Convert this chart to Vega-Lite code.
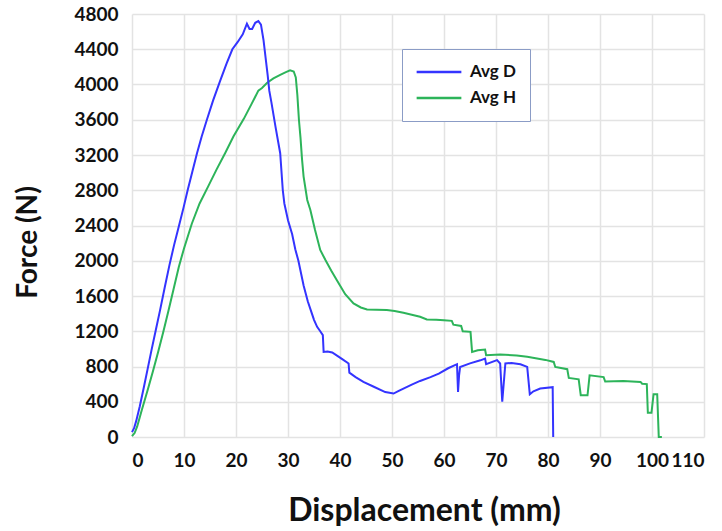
{
  "$schema": "https://vega.github.io/schema/vega-lite/v6.json",
  "width": 572,
  "height": 423,
  "autosize": "none",
  "padding": {"left": 132, "top": 14, "right": 18, "bottom": 94},
  "background": "white",
  "config": {
    "view": {"stroke": null},
    "font": "Lato",
    "axis": {
      "grid": true, "gridColor": "#e3e3e3", "gridWidth": 1.5,
      "domain": false, "ticks": false,
      "labelFont": "Lato", "labelFontWeight": "bold", "labelFontSize": 19, "labelColor": "#111111",
      "titleFont": "Lato", "titleFontWeight": "bold", "titleColor": "#111111"
    }
  },
  "datasets": {
    "curves": [
      {"s":"Avg D","x":0,"y":55},{"s":"Avg D","x":0.4,"y":100},{"s":"Avg D","x":0.8,"y":180},{"s":"Avg D","x":1.5,"y":350},{"s":"Avg D","x":2.3,"y":570},{"s":"Avg D","x":3.0,"y":770},{"s":"Avg D","x":3.8,"y":1000},{"s":"Avg D","x":4.6,"y":1220},{"s":"Avg D","x":5.4,"y":1440},{"s":"Avg D","x":6.3,"y":1700},{"s":"Avg D","x":7.2,"y":1950},{"s":"Avg D","x":8.1,"y":2180},{"s":"Avg D","x":9.0,"y":2390},{"s":"Avg D","x":9.9,"y":2600},{"s":"Avg D","x":10.7,"y":2800},{"s":"Avg D","x":11.6,"y":3010},{"s":"Avg D","x":12.5,"y":3220},{"s":"Avg D","x":13.4,"y":3410},{"s":"Avg D","x":14.4,"y":3600},{"s":"Avg D","x":15.6,"y":3820},{"s":"Avg D","x":17.0,"y":4050},{"s":"Avg D","x":18.2,"y":4240},{"s":"Avg D","x":19.3,"y":4400},{"s":"Avg D","x":20.3,"y":4480},{"s":"Avg D","x":21.3,"y":4570},{"s":"Avg D","x":22.1,"y":4690},{"s":"Avg D","x":22.6,"y":4630},{"s":"Avg D","x":23.1,"y":4630},{"s":"Avg D","x":23.7,"y":4700},{"s":"Avg D","x":24.3,"y":4720},{"s":"Avg D","x":24.8,"y":4680},{"s":"Avg D","x":25.3,"y":4500},{"s":"Avg D","x":25.7,"y":4300},{"s":"Avg D","x":26.1,"y":4100},{"s":"Avg D","x":26.4,"y":3930},{"s":"Avg D","x":26.8,"y":3800},{"s":"Avg D","x":27.6,"y":3520},{"s":"Avg D","x":28.5,"y":3220},{"s":"Avg D","x":29.0,"y":2800},{"s":"Avg D","x":29.3,"y":2650},{"s":"Avg D","x":30.0,"y":2460},{"s":"Avg D","x":30.8,"y":2300},{"s":"Avg D","x":31.4,"y":2130},{"s":"Avg D","x":32.0,"y":2000},{"s":"Avg D","x":33.0,"y":1720},{"s":"Avg D","x":33.8,"y":1540},{"s":"Avg D","x":34.6,"y":1400},{"s":"Avg D","x":35.0,"y":1330},{"s":"Avg D","x":35.6,"y":1250},{"s":"Avg D","x":36.2,"y":1200},{"s":"Avg D","x":36.7,"y":1156},{"s":"Avg D","x":36.85,"y":966},{"s":"Avg D","x":37.6,"y":970},{"s":"Avg D","x":38.5,"y":960},{"s":"Avg D","x":39.5,"y":920},{"s":"Avg D","x":40.5,"y":880},{"s":"Avg D","x":41.65,"y":834},{"s":"Avg D","x":41.8,"y":730},{"s":"Avg D","x":43.0,"y":680},{"s":"Avg D","x":44.5,"y":625},{"s":"Avg D","x":46.5,"y":570},{"s":"Avg D","x":48.7,"y":510},{"s":"Avg D","x":50.3,"y":493},{"s":"Avg D","x":51.2,"y":520},{"s":"Avg D","x":52.2,"y":550},{"s":"Avg D","x":53.8,"y":595},{"s":"Avg D","x":55.4,"y":636},{"s":"Avg D","x":57.4,"y":680},{"s":"Avg D","x":59.0,"y":720},{"s":"Avg D","x":60.8,"y":780},{"s":"Avg D","x":62.5,"y":826},{"s":"Avg D","x":62.7,"y":510},{"s":"Avg D","x":62.9,"y":700},{"s":"Avg D","x":63.1,"y":795},{"s":"Avg D","x":65.0,"y":835},{"s":"Avg D","x":67.0,"y":870},{"s":"Avg D","x":67.9,"y":890},{"s":"Avg D","x":68.1,"y":826},{"s":"Avg D","x":70.2,"y":872},{"s":"Avg D","x":70.8,"y":834},{"s":"Avg D","x":71.2,"y":400},{"s":"Avg D","x":71.8,"y":834},{"s":"Avg D","x":73.0,"y":840},{"s":"Avg D","x":74.7,"y":826},{"s":"Avg D","x":76.0,"y":795},{"s":"Avg D","x":76.5,"y":485},{"s":"Avg D","x":77.2,"y":519},{"s":"Avg D","x":78.5,"y":550},{"s":"Avg D","x":80.9,"y":565},{"s":"Avg D","x":81.0,"y":0},
      {"s":"Avg H","x":0,"y":10},{"s":"Avg H","x":0.5,"y":45},{"s":"Avg H","x":1.0,"y":120},{"s":"Avg H","x":1.9,"y":310},{"s":"Avg H","x":3.0,"y":530},{"s":"Avg H","x":4.0,"y":740},{"s":"Avg H","x":5.0,"y":960},{"s":"Avg H","x":6.0,"y":1190},{"s":"Avg H","x":7.0,"y":1430},{"s":"Avg H","x":8.0,"y":1680},{"s":"Avg H","x":9.0,"y":1930},{"s":"Avg H","x":10.0,"y":2140},{"s":"Avg H","x":11.5,"y":2420},{"s":"Avg H","x":13.0,"y":2650},{"s":"Avg H","x":14.7,"y":2850},{"s":"Avg H","x":16.3,"y":3040},{"s":"Avg H","x":17.9,"y":3220},{"s":"Avg H","x":19.5,"y":3410},{"s":"Avg H","x":21.5,"y":3610},{"s":"Avg H","x":23.0,"y":3780},{"s":"Avg H","x":24.3,"y":3930},{"s":"Avg H","x":25.0,"y":3960},{"s":"Avg H","x":26.0,"y":4020},{"s":"Avg H","x":27.2,"y":4070},{"s":"Avg H","x":28.5,"y":4110},{"s":"Avg H","x":29.6,"y":4140},{"s":"Avg H","x":30.4,"y":4160},{"s":"Avg H","x":31.1,"y":4148},{"s":"Avg H","x":31.5,"y":4080},{"s":"Avg H","x":31.8,"y":3880},{"s":"Avg H","x":32.1,"y":3600},{"s":"Avg H","x":32.4,"y":3400},{"s":"Avg H","x":32.7,"y":3150},{"s":"Avg H","x":33.0,"y":2955},{"s":"Avg H","x":33.7,"y":2690},{"s":"Avg H","x":34.3,"y":2576},{"s":"Avg H","x":35.2,"y":2350},{"s":"Avg H","x":36.2,"y":2122},{"s":"Avg H","x":37.2,"y":2008},{"s":"Avg H","x":38.3,"y":1890},{"s":"Avg H","x":39.4,"y":1780},{"s":"Avg H","x":41.0,"y":1620},{"s":"Avg H","x":42.6,"y":1516},{"s":"Avg H","x":44.0,"y":1470},{"s":"Avg H","x":45.2,"y":1448},{"s":"Avg H","x":47.0,"y":1445},{"s":"Avg H","x":49.0,"y":1440},{"s":"Avg H","x":50.5,"y":1430},{"s":"Avg H","x":52.2,"y":1410},{"s":"Avg H","x":54.0,"y":1385},{"s":"Avg H","x":55.4,"y":1364},{"s":"Avg H","x":56.7,"y":1334},{"s":"Avg H","x":58.5,"y":1330},{"s":"Avg H","x":60.0,"y":1325},{"s":"Avg H","x":61.5,"y":1318},{"s":"Avg H","x":61.8,"y":1275},{"s":"Avg H","x":63.3,"y":1260},{"s":"Avg H","x":63.6,"y":1200},{"s":"Avg H","x":65.1,"y":1193},{"s":"Avg H","x":65.4,"y":966},{"s":"Avg H","x":66.5,"y":985},{"s":"Avg H","x":67.9,"y":993},{"s":"Avg H","x":68.1,"y":928},{"s":"Avg H","x":70.8,"y":936},{"s":"Avg H","x":74.0,"y":925},{"s":"Avg H","x":76.0,"y":910},{"s":"Avg H","x":77.9,"y":891},{"s":"Avg H","x":79.5,"y":875},{"s":"Avg H","x":81.1,"y":852},{"s":"Avg H","x":81.4,"y":795},{"s":"Avg H","x":83.7,"y":770},{"s":"Avg H","x":84.0,"y":670},{"s":"Avg H","x":85.9,"y":655},{"s":"Avg H","x":86.3,"y":474},{"s":"Avg H","x":87.6,"y":474},{"s":"Avg H","x":88.0,"y":700},{"s":"Avg H","x":90.7,"y":680},{"s":"Avg H","x":91.0,"y":630},{"s":"Avg H","x":94.5,"y":636},{"s":"Avg H","x":97.8,"y":625},{"s":"Avg H","x":98.1,"y":605},{"s":"Avg H","x":99.0,"y":600},{"s":"Avg H","x":99.2,"y":275},{"s":"Avg H","x":99.9,"y":275},{"s":"Avg H","x":100.3,"y":485},{"s":"Avg H","x":101.0,"y":485},{"s":"Avg H","x":101.3,"y":0},{"s":"Avg H","x":101.9,"y":0}
    ]
  },
  "data": {"name": "curves"},
  "encoding": {
    "x": {
      "field": "x", "type": "quantitative",
      "scale": {"domain": [0, 110], "nice": false, "zero": false},
      "axis": {"values": [0,10,20,30,40,50,60,70,80,90,100,110], "format": "d", "labelPadding": 14, "title": "Displacement (mm)", "titleFontSize": 32, "titleX": 292, "titleY": 73, "titleBaseline": "middle", "titleAlign": "center"}
    },
    "y": {
      "field": "y", "type": "quantitative",
      "scale": {"domain": [0, 4800], "nice": false},
      "axis": {"values": [0,400,800,1200,1600,2000,2400,2800,3200,3600,4000,4400,4800], "format": "d", "labelPadding": 14, "title": "Force (N)", "titleFontSize": 28, "titleX": -104, "titleY": 228, "titleAngle": -90, "titleAlign": "center", "titleBaseline": "middle"}
    },
    "color": {
      "field": "s", "type": "nominal",
      "scale": {"domain": ["Avg D", "Avg H"], "range": ["#3434ff", "#2db45a"]},
      "legend": {
        "title": null, "orient": "none", "legendX": 270, "legendY": 35,
        "strokeColor": "#8b9cc6", "fillColor": "white", "padding": 13,
        "symbolType": "stroke", "symbolSize": 2000, "symbolStrokeWidth": 2.5,
        "clipHeight": 20,
        "labelFont": "Lato", "labelFontWeight": "bold", "labelFontSize": 17, "labelColor": "#111111",
        "labelOffset": 7, "rowPadding": 6
      }
    }
  },
  "layer": [
    {"transform": [{"filter": "datum.s == 'Avg H'"}], "mark": {"type": "line", "strokeWidth": 2, "interpolate": "linear"}},
    {"transform": [{"filter": "datum.s == 'Avg D'"}], "mark": {"type": "line", "strokeWidth": 2, "interpolate": "linear"}}
  ]
}
